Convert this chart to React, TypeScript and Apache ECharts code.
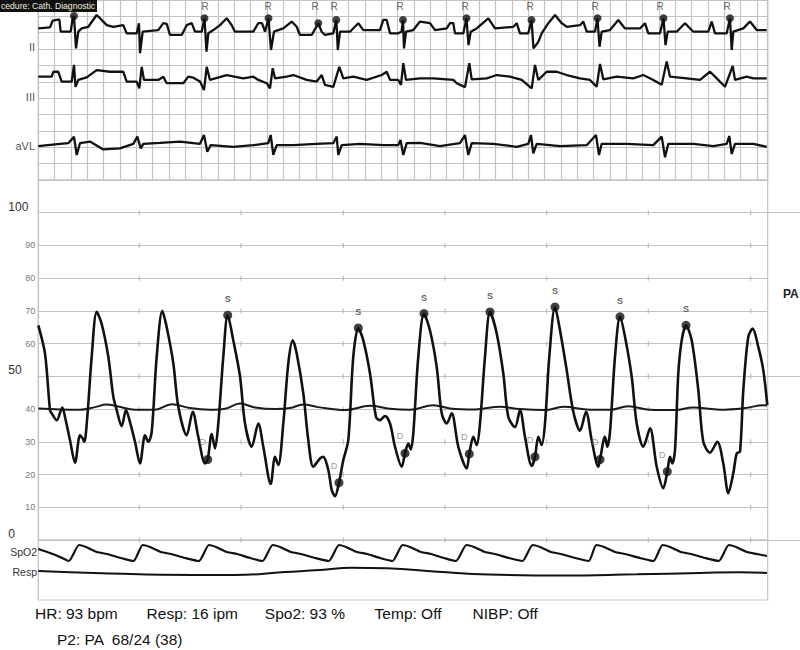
import React, { useEffect, useRef } from "react";
import * as echarts from "echarts";

// ---------- data (time in ms from sweep start) ----------
const SWEEP_MS = 7294;
const ECG_BOX_MS = 163.3;
const ECG_BOX_MV = 0.5;
const ECG_BG_MAX_MV = 5.5;
const PA_TICK_MS = [1010, 2027, 3050, 4067, 5084, 6100, 7124];
const PA_GRID_VALUES = [0, 10, 20, 30, 40, 50, 60, 70, 80, 90, 100];
const PA_AXIS_MAX = 110;

// Lead II, mV relative to its baseline
const leadII: [number, number][] = [
  [0, 0.1], [117, 0.13], [144, 0.34], [210, 0.38], [224, 0], [324, 0], [344, 0.41], [357, 0.48], [377, -0.51], [400, 0],
  [434, 0.1], [500, 0.15], [584, 0.51], [617, 0.41], [684, 0.2], [750, 0.15], [850, 0.2], [884, -0.05], [984, -0.05],
  [1007, 0.26], [1017, -0.66], [1044, 0], [1200, 0.05], [1250, 0.26], [1284, 0.24], [1317, -0.1], [1434, -0.1],
  [1484, 0.2], [1534, 0.26], [1567, 0], [1634, 0], [1662, 0.41], [1682, -0.61], [1700, -0.05], [1750, 0.05],
  [1817, 0.2], [1884, 0.41], [1934, 0.2], [1967, 0], [2150, 0], [2200, 0.26], [2237, 0.26], [2267, 0], [2302, 0.41],
  [2327, -0.56], [2357, 0], [2450, 0.1], [2534, 0.31], [2584, 0.15], [2617, -0.1], [2734, -0.1], [2800, 0.26],
  [2834, 0], [2867, -0.1], [2950, -0.05], [2980, 0.36], [2995, -0.56], [3017, 0], [3117, 0], [3200, 0.26], [3250, 0.05],
  [3417, 0.05], [3450, 0.36], [3484, 0.36], [3517, -0.05], [3600, -0.05], [3632, 0], [3647, 0.36], [3657, -0.51],
  [3677, 0], [3750, 0.05], [3817, 0.31], [3917, 0.26], [3967, 0.05], [4084, 0.1], [4117, 0.26], [4150, 0.26],
  [4167, -0.05], [4250, -0.05], [4282, 0.41], [4302, -0.41], [4324, 0], [4384, 0.1], [4500, 0.41], [4567, 0.1],
  [4750, 0.15], [4784, 0.26], [4817, -0.05], [4900, -0.05], [4932, 0.36], [4952, -0.51], [5000, -0.31], [5034, -0.05],
  [5100, 0.26], [5167, 0.51], [5234, 0.26], [5284, 0.15], [5417, 0.2], [5450, 0.31], [5484, 0], [5567, 0], [5592, 0.41],
  [5612, -0.46], [5634, 0], [5717, 0.05], [5800, 0.36], [5867, 0.1], [6017, 0.1], [6067, 0.26], [6100, -0.05],
  [6217, -0.05], [6252, 0.41], [6272, -0.41], [6294, 0], [6384, 0], [6467, 0.26], [6550, 0], [6700, 0], [6734, 0.31],
  [6767, -0.05], [6884, -0.05], [6917, 0.41], [6934, -0.56], [6950, 0], [7050, 0.1], [7117, 0.31], [7184, 0.05], [7284, 0.05],
];

const leadIII: [number, number][] = [
  [0, 0.05], [134, 0.05], [150, 0.2], [200, 0.2], [234, -0.1], [334, -0.1], [357, 0.41], [372, -0.26], [400, -0.05],
  [484, 0.03], [584, 0.25], [717, 0.2], [850, 0.2], [884, -0.1], [984, -0.1], [1010, -0.31], [1034, 0.35], [1057, -0.05],
  [1200, -0.05], [1250, 0.05], [1284, -0.15], [1450, -0.15], [1500, 0.05], [1550, 0.02], [1617, -0.1], [1657, -0.36],
  [1684, 0.35], [1717, -0.05], [1884, 0.1], [2050, 0], [2150, 0.05], [2200, -0.05], [2284, -0.15], [2317, -0.31],
  [2344, 0.31], [2367, 0], [2484, 0.05], [2550, 0.1], [2684, -0.05], [2784, -0.1], [2834, 0.1], [2867, -0.2],
  [2950, -0.26], [3010, 0.35], [3050, 0], [3150, 0.05], [3284, -0.05], [3434, 0.1], [3484, 0.2], [3517, -0.05],
  [3600, -0.05], [3627, -0.2], [3650, 0.46], [3677, -0.05], [3817, 0], [3950, 0], [4150, -0.05], [4184, -0.15],
  [4267, -0.27], [4310, 0.46], [4334, -0.03], [4484, 0], [4584, 0.1], [4717, 0.05], [4834, -0.05], [4934, -0.31],
  [4967, 0.41], [5000, -0.05], [5084, 0.2], [5184, 0.2], [5284, 0.1], [5417, 0], [5517, -0.05], [5584, -0.26],
  [5617, 0.44], [5650, -0.03], [5784, 0.05], [5950, 0], [6050, 0.1], [6150, -0.05], [6234, -0.2], [6284, 0.51],
  [6317, 0.05], [6484, 0], [6617, -0.05], [6717, 0.2], [6767, 0.05], [6867, -0.26], [6944, 0.38], [6967, -0.05],
  [7084, 0.05], [7150, 0], [7284, 0],
];

const leadAVL: [number, number][] = [
  [0, -0.05], [217, 0.02], [300, 0.04], [357, 0.24], [384, -0.32], [417, 0.04], [517, 0.09], [650, -0.15], [817, -0.12],
  [950, 0.02], [990, 0.24], [1024, -0.12], [1050, 0.02], [1217, 0.05], [1417, 0.09], [1617, 0.02], [1657, 0.29],
  [1690, -0.22], [1724, -0.02], [1950, -0.07], [2150, -0.02], [2300, 0.04], [2324, 0.29], [2350, -0.32], [2384, -0.02],
  [2550, -0.02], [2784, 0.02], [2950, 0.04], [2984, 0.24], [3000, -0.32], [3034, -0.02], [3217, 0.02], [3450, -0.02],
  [3600, -0.02], [3622, 0.14], [3650, -0.32], [3684, 0.04], [3817, 0.05], [4017, -0.05], [4217, 0.04], [4267, 0.29],
  [4300, -0.32], [4334, 0.04], [4550, 0.02], [4784, -0.07], [4900, 0.02], [4927, 0.29], [4950, -0.27], [4984, 0.02],
  [5217, -0.05], [5484, -0.02], [5577, 0.29], [5607, -0.32], [5634, 0.02], [5884, 0.02], [6150, -0.02], [6234, 0.24],
  [6267, -0.39], [6300, 0.02], [6550, 0.02], [6750, -0.05], [6884, 0.02], [6910, 0.26], [6934, -0.29], [6967, 0.02],
  [7150, 0.02], [7284, -0.07],
];

const rPeaks: [number, number][] = [
  [357, 0.48], [1662, 0.41], [2302, 0.41], [2800, 0.26], [2980, 0.36], [3647, 0.36], [4282, 0.41], [4932, 0.36],
  [5592, 0.41], [6252, 0.41], [6917, 0.41],
];
const rLabelTimes = [1667, 2297, 2767, 2957, 3617, 4267, 4917, 5567, 6217, 6887];

// PA pressure, mmHg
const paPressure: [number, number][] = [
  [0, 65.6], [67, 57], [117, 39.7], [134, 38.7], [184, 36.6], [240, 40.5], [267, 37.6], [317, 30.5], [367, 23.6],
  [417, 32], [444, 31], [460, 30], [490, 37.6], [534, 56], [584, 69.7], [634, 66], [700, 56], [750, 43.8], [784, 39.7],
  [834, 34.8], [877, 39.7], [917, 36], [967, 30], [1017, 23.4], [1067, 32], [1100, 30], [1134, 33], [1184, 56],
  [1240, 70], [1284, 65], [1350, 54], [1400, 40.7], [1484, 32], [1544, 39.2], [1600, 31.5], [1667, 23.4], [1694, 24.6],
  [1734, 32.4], [1767, 28], [1800, 35.6], [1850, 56], [1894, 68.7], [1950, 61], [2017, 50], [2067, 35.6], [2134, 28.5],
  [2200, 35.6], [2250, 28.5], [2324, 17.1], [2367, 25.4], [2400, 22.9], [2450, 35.6], [2500, 54], [2544, 61], [2584, 57],
  [2650, 44.8], [2700, 30.5], [2750, 22.4], [2817, 24.9], [2850, 25.4], [2900, 21.4], [2934, 15.3], [2967, 13.4],
  [3007, 17.5], [3050, 24.4], [3100, 30.5], [3150, 56], [3200, 64.8], [3250, 61], [3317, 50.9], [3377, 37.6],
  [3417, 36.6], [3467, 37.9], [3517, 35.6], [3567, 28.5], [3634, 22.4], [3667, 26.5], [3700, 29.5], [3724, 27.7],
  [3750, 32.6], [3800, 56], [3857, 69.2], [3917, 64], [3984, 52.9], [4034, 38.7], [4084, 35.6], [4134, 38.7],
  [4200, 28.5], [4284, 21.9], [4310, 26.3], [4350, 31.5], [4384, 29], [4417, 35.6], [4467, 56], [4517, 69.7],
  [4584, 63.1], [4650, 50.9], [4700, 37.6], [4767, 34.5], [4817, 39.7], [4867, 31.5], [4934, 22.6], [4967, 25.4],
  [5000, 31.5], [5034, 29], [5067, 35.6], [5110, 56], [5167, 71.2], [5217, 64.1], [5284, 51.9], [5350, 39.2],
  [5417, 33.4], [5477, 39.2], [5534, 30.5], [5600, 22.4], [5617, 24.6], [5667, 31.5], [5690, 28.5], [5717, 33],
  [5767, 56], [5817, 68.2], [5867, 62.1], [5934, 49.9], [5984, 35.6], [6050, 28.5], [6117, 34.1], [6184, 22.4],
  [6250, 15.8], [6290, 20.9], [6317, 25.4], [6340, 23.4], [6367, 27.5], [6400, 50.9], [6434, 61], [6477, 65.6],
  [6534, 61], [6600, 45.8], [6650, 30], [6717, 26.7], [6790, 30], [6850, 23.4], [6900, 14.3], [6950, 20.4],
  [6984, 26.5], [7017, 27], [7050, 45.8], [7100, 62.1], [7144, 64.6], [7200, 59], [7250, 51.9], [7290, 41.2],
];

const paMean: [number, number][] = [
  [0, 40.2], [217, 39.9], [417, 39.8], [567, 40.6], [684, 41.4], [797, 40.8], [967, 39.8], [1167, 39.8], [1334, 41.5],
  [1517, 40.3], [1717, 39.8], [1867, 40.1], [2017, 41.7], [2167, 40.5], [2367, 40], [2517, 40.3], [2650, 41.4],
  [2797, 40.6], [3067, 39.7], [3317, 41], [3517, 40.1], [3717, 39.8], [3950, 41.2], [4117, 40.2], [4367, 39.9],
  [4617, 40.7], [4817, 40], [5067, 39.7], [5250, 40.7], [5517, 39.8], [5717, 39.8], [5900, 40.9], [6117, 39.8],
  [6367, 39.7], [6550, 40.5], [6817, 39.8], [7067, 40.3], [7250, 41.2], [7287, 41.1],
];

const systolicMarks: [number, number][] = [
  [1894, 68.7], [3200, 64.8], [3857, 69.2], [4517, 69.7], [5167, 71.2], [5817, 68.2], [6477, 65.6],
];
const diastolicMarks: [number, number][] = [
  [1694, 24.6], [3007, 17.5], [3667, 26.5], [4310, 26.3], [4967, 25.4], [5617, 24.6], [6290, 20.9],
];

// Pleth and respiration, relative amplitude (0-100)
const spo2Pleth: [number, number][] = [
  [0, 64], [117, 48], [217, 32], [305, 16], [407, 80], [477, 72], [587, 52], [687, 44], [827, 28],
  [952, 16], [1044, 80], [1117, 72], [1227, 52], [1327, 44], [1467, 28],
  [1605, 16], [1707, 80], [1777, 72], [1887, 52], [1987, 44], [2117, 28],
  [2242, 16], [2344, 80], [2417, 72], [2527, 52], [2627, 44], [2767, 28],
  [2904, 16], [3007, 80], [3077, 72], [3187, 52], [3287, 44], [3417, 28],
  [3542, 16], [3643, 80], [3717, 72], [3827, 52], [3927, 44], [4057, 28],
  [4177, 16], [4281, 80], [4357, 72], [4467, 52], [4567, 44], [4707, 28],
  [4841, 16], [4943, 80], [5017, 72], [5127, 52], [5227, 44], [5367, 28],
  [5504, 16], [5580, 80], [5657, 72], [5767, 52], [5867, 44], [6017, 28],
  [6151, 16], [6243, 80], [6317, 72], [6427, 52], [6527, 44], [6667, 28],
  [6804, 16], [6905, 80], [6977, 72], [7087, 52], [7187, 44], [7287, 36],
];

const respWave: [number, number][] = [
  [0, 45], [637, 33.5], [1557, 25], [1957, 25], [2467, 40], [2817, 50], [3137, 61.5], [3487, 58.5], [3997, 41.5],
  [4507, 27.5], [5227, 22.5], [5987, 28.5], [6617, 35], [7007, 38.5], [7287, 35],
];

const leadNames = ["II", "III", "aVL"];
const vitals = ["HR: 93 bpm", "Resp: 16 ipm", "Spo2: 93 %", "Temp: Off", "NIBP: Off"];
const pressureReadout = "P2: PA  68/24 (38)";
const procedureTitle = "cedure: Cath. Diagnostic";

// ---------- layout ----------
const FONT = "'Liberation Sans', Arial, sans-serif";
const LEFT = 38.3;
const WIDTH = 729.4;
const PX_PER_MV = 32.73;
const GRID_COLOR = "#c3c3c3";
const INK = "#111";
const leadLayout = [
  { base: 31.7, max: 0.95, min: -1.2, labelY: 47 },
  { base: 78.3, max: 1.3, min: -1.0, labelY: 97 },
  { base: 144.5, max: 1.1, min: -1.1, labelY: 146 },
];
const VITAL_X = [35, 146.6, 264.8, 374.6, 472.6];

export default function App() {
  const ref = useRef<HTMLDivElement>(null);

  useEffect(() => {
    document.body.style.margin = "0";
    if (!ref.current) return;
    const chart = echarts.init(ref.current, null, { renderer: "svg", width: 800, height: 650 });

    const leadSeries = [leadII, leadIII, leadAVL];

    const grids: any[] = [
      { left: LEFT, width: WIDTH, top: 0, height: 180, show: true, borderColor: GRID_COLOR, borderWidth: 1.2 },
      ...leadLayout.map((l) => ({
        left: LEFT,
        width: WIDTH,
        top: l.base - l.max * PX_PER_MV,
        height: (l.max - l.min) * PX_PER_MV,
      })),
      { left: LEFT, width: WIDTH, top: 180, height: 360, show: true, borderColor: GRID_COLOR, borderWidth: 1.2 },
      { left: LEFT + WIDTH, right: 0, top: 212.5, height: 327.5 },
      { left: LEFT, width: WIDTH, top: 540, height: 60, show: true, borderColor: GRID_COLOR, borderWidth: 1.2 },
      { left: LEFT, width: WIDTH, top: 540, height: 25 },
      { left: LEFT, width: WIDTH, top: 560, height: 20 },
    ];

    const hiddenX = (g: number) => ({ type: "value", gridIndex: g, min: 0, max: SWEEP_MS, show: false });

    const xAxes: any[] = [
      {
        type: "value",
        gridIndex: 0,
        min: 0,
        max: SWEEP_MS,
        interval: ECG_BOX_MS,
        axisLine: { show: false },
        axisTick: { show: false },
        axisLabel: { show: false },
        splitLine: { show: true, lineStyle: { color: GRID_COLOR, width: 1.2 } },
      },
      hiddenX(1),
      hiddenX(2),
      hiddenX(3),
      hiddenX(4),
      { type: "value", gridIndex: 5, min: 0, max: 1, show: false },
      hiddenX(6),
      hiddenX(7),
      hiddenX(8),
    ];

    const yAxes: any[] = [
      {
        type: "value",
        gridIndex: 0,
        min: 0,
        max: ECG_BG_MAX_MV,
        interval: ECG_BOX_MV,
        axisLine: { show: false },
        axisTick: { show: false },
        axisLabel: { show: false },
        splitLine: { show: true, lineStyle: { color: GRID_COLOR, width: 1.2 } },
      },
      ...leadLayout.map((l, i) => ({ type: "value", gridIndex: i + 1, min: l.min, max: l.max, show: false })),
      {
        type: "value",
        gridIndex: 4,
        min: 0,
        max: PA_AXIS_MAX,
        interval: 10,
        axisLine: { show: true, lineStyle: { color: GRID_COLOR, width: 1.2 } },
        axisTick: { show: false },
        axisLabel: {
          margin: 3,
          fontSize: 9,
          color: "#7a7a7a",
          fontFamily: FONT,
          formatter: (v: number) => (v % 50 === 0 || v > 100 ? "" : String(v)),
        },
        splitLine: { show: true, lineStyle: { color: GRID_COLOR, width: 1.2 } },
      },
      {
        type: "value",
        gridIndex: 4,
        position: "left",
        min: 0,
        max: PA_AXIS_MAX,
        interval: 50,
        axisLine: { show: false },
        axisTick: { show: false },
        splitLine: { show: false },
        axisLabel: {
          margin: 30,
          align: "left",
          verticalAlign: "bottom",
          fontSize: 12,
          color: "#333",
          fontFamily: FONT,
          formatter: (v: number) => (v > 100 ? "" : String(v)),
        },
      },
      {
        type: "value",
        gridIndex: 5,
        min: 0,
        max: 100,
        interval: 50,
        axisLine: { show: false },
        axisTick: { show: false },
        axisLabel: { show: false },
        splitLine: { show: true, lineStyle: { color: GRID_COLOR, width: 1.2 } },
      },
      { type: "value", gridIndex: 6, min: 0, max: 1, show: false },
      { type: "value", gridIndex: 7, min: 0, max: 100, show: false },
      { type: "value", gridIndex: 8, min: 0, max: 100, show: false },
    ];

    const series: any[] = [
      ...leadSeries.map((d, i) => ({
        type: "line",
        xAxisIndex: i + 1,
        yAxisIndex: i + 1,
        data: d,
        showSymbol: false,
        lineStyle: { color: INK, width: 2.3 },
        z: 3,
      })),
      {
        type: "scatter",
        xAxisIndex: 1,
        yAxisIndex: 1,
        data: rPeaks,
        symbolSize: 8,
        itemStyle: { color: INK },
        z: 4,
      },
      {
        type: "scatter",
        xAxisIndex: 1,
        yAxisIndex: 1,
        data: rLabelTimes.map((t) => [t, leadLayout[0].max]),
        symbolSize: 2,
        itemStyle: { color: "rgba(255,255,255,0)" },
        label: {
          show: true,
          formatter: "R",
          position: "bottom",
          distance: 0,
          fontSize: 10,
          color: "#3a3a3a",
          textBorderWidth: 0,
          fontFamily: FONT,
        },
        z: 4,
      },
      {
        type: "scatter",
        xAxisIndex: 4,
        yAxisIndex: 4,
        data: PA_TICK_MS.flatMap((t) => PA_GRID_VALUES.map((v) => [t, v])),
        symbol: "rect",
        symbolSize: [1.2, 5],
        itemStyle: { color: "#b0b0b0" },
        z: 1,
        silent: true,
      },
      {
        type: "line",
        xAxisIndex: 4,
        yAxisIndex: 4,
        data: paMean,
        showSymbol: false,
        smooth: 0.4,
        lineStyle: { color: "#1a1a1a", width: 2 },
        z: 3,
      },
      {
        type: "line",
        xAxisIndex: 4,
        yAxisIndex: 4,
        data: paPressure,
        showSymbol: false,
        smooth: 0.3,
        lineStyle: { color: INK, width: 2.6 },
        z: 3,
      },
      {
        type: "scatter",
        xAxisIndex: 4,
        yAxisIndex: 4,
        data: systolicMarks,
        symbolSize: 9,
        itemStyle: { color: INK },
        label: {
          show: true,
          formatter: "S",
          position: "top",
          distance: 7,
          fontSize: 9,
          fontWeight: "bold",
          color: "#333",
          textBorderWidth: 0,
          fontFamily: FONT,
        },
        z: 4,
      },
      {
        type: "scatter",
        xAxisIndex: 4,
        yAxisIndex: 4,
        data: diastolicMarks,
        symbolSize: 9,
        itemStyle: { color: INK },
        label: {
          show: true,
          formatter: "D",
          position: "top",
          distance: 8,
          offset: [-5, 0],
          fontSize: 9,
          color: "#808080",
          textBorderWidth: 0,
          fontFamily: FONT,
        },
        z: 4,
      },
      {
        type: "line",
        xAxisIndex: 7,
        yAxisIndex: 8,
        data: spo2Pleth,
        showSymbol: false,
        smooth: 0.2,
        lineStyle: { color: INK, width: 2.2 },
      },
      {
        type: "line",
        xAxisIndex: 8,
        yAxisIndex: 9,
        data: respWave,
        showSymbol: false,
        smooth: 0.5,
        lineStyle: { color: INK, width: 2 },
      },
    ];

    const textEl = (text: string, x: number, y: number, size: number, fill: string, align = "left", weight = "normal") => ({
      type: "text",
      x,
      y,
      z: 100,
      style: {
        text,
        fill,
        font: `${weight} ${size}px ${FONT}`,
        align,
        verticalAlign: "middle",
        textAlign: align,
        textVerticalAlign: "middle",
      },
    });

    const graphic: any[] = [
      { type: "rect", z: 100, shape: { x: 0, y: 0, width: 97, height: 12 }, style: { fill: "#111" } },
      textEl(procedureTitle, 1, 6, 8.6, "#f4f0dc", "left"),
      ...leadNames.map((n, i) => textEl(n, 35, leadLayout[i].labelY, 11, "#555", "right")),
      textEl("SpO2", 37, 552, 10.5, "#333", "right"),
      textEl("Resp", 37, 572, 10.5, "#333", "right"),
      textEl("PA", 783, 294, 12, "#222", "left", "bold"),
      ...vitals.map((v, i) => textEl(v, VITAL_X[i], 613, 15.5, INK, "left")),
      textEl(pressureReadout, 57, 639, 15.5, INK, "left"),
    ];

    chart.setOption({
      animation: false,
      backgroundColor: "#fff",
      grid: grids,
      xAxis: xAxes,
      yAxis: yAxes,
      series,
      graphic,
    });

    return () => chart.dispose();
  }, []);

  return <div ref={ref} style={{ width: 800, height: 650 }} />;
}
